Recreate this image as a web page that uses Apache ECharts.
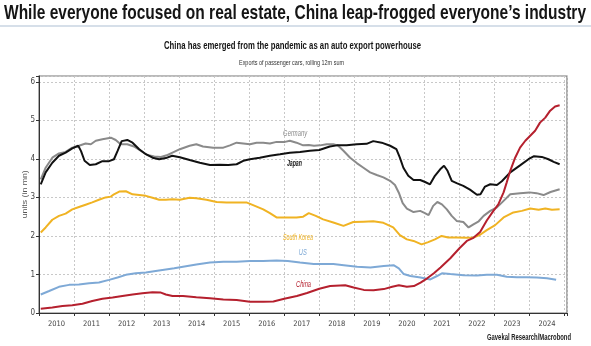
<!DOCTYPE html>
<html><head><meta charset="utf-8">
<script src="https://cdn.jsdelivr.net/npm/echarts@6/dist/echarts.min.js"></script>
<style>html,body{margin:0;padding:0;background:#fff}#c{width:591px;height:346px}</style>
</head><body><div id="c"></div>
<script>
const FAM = "'Liberation Sans', Arial, sans-serif";
const AXFAM = "'DejaVu Sans Condensed', 'Liberation Sans', sans-serif";
const yearLabels = ['2010','2011','2012','2013','2014','2015','2016','2017','2018','2019','2020','2021','2022','2023','2024'];
const yTicks = [0,1,2,3,4,5,6];

const japan = [[2010.05,3.34],[2010.19,3.65],[2010.38,3.9],[2010.57,4.08],[2010.76,4.16],[2010.95,4.27],[2011.12,4.34],[2011.2,4.2],[2011.3,3.95],[2011.45,3.84],[2011.62,3.86],[2011.81,3.94],[2012.0,3.94],[2012.14,3.99],[2012.24,4.2],[2012.36,4.46],[2012.52,4.49],[2012.67,4.42],[2012.86,4.25],[2013.05,4.12],[2013.24,4.03],[2013.43,3.99],[2013.62,4.02],[2013.8,4.08],[2014.02,4.04],[2014.3,3.97],[2014.59,3.9],[2014.88,3.84],[2015.16,3.85],[2015.4,3.84],[2015.64,3.86],[2015.83,3.95],[2016.02,3.99],[2016.3,4.03],[2016.59,4.08],[2016.88,4.12],[2017.16,4.16],[2017.45,4.18],[2017.73,4.21],[2018.0,4.23],[2018.3,4.32],[2018.5,4.35],[2018.78,4.35],[2019.07,4.38],[2019.35,4.39],[2019.54,4.46],[2019.78,4.42],[2020.02,4.34],[2020.2,4.25],[2020.3,4.03],[2020.4,3.77],[2020.54,3.56],[2020.69,3.45],[2020.88,3.45],[2021.02,3.4],[2021.16,3.34],[2021.3,3.56],[2021.45,3.73],[2021.56,3.82],[2021.66,3.69],[2021.78,3.43],[2021.92,3.37],[2022.11,3.3],[2022.3,3.2],[2022.5,3.07],[2022.6,3.08],[2022.73,3.28],[2022.88,3.34],[2023.07,3.32],[2023.21,3.42],[2023.45,3.65],[2023.73,3.83],[2023.97,3.99],[2024.13,4.07],[2024.35,4.05],[2024.54,3.99],[2024.69,3.92],[2024.86,3.86]];

const germany = [[2010.05,3.47],[2010.19,3.77],[2010.38,4.03],[2010.57,4.14],[2010.76,4.18],[2010.95,4.29],[2011.14,4.34],[2011.33,4.4],[2011.48,4.38],[2011.62,4.47],[2011.81,4.51],[2012.05,4.55],[2012.19,4.49],[2012.33,4.38],[2012.52,4.38],[2012.71,4.32],[2012.9,4.21],[2013.09,4.1],[2013.29,4.06],[2013.48,4.05],[2013.67,4.1],[2013.81,4.16],[2014.02,4.25],[2014.3,4.34],[2014.49,4.38],[2014.68,4.32],[2014.97,4.29],[2015.26,4.29],[2015.45,4.35],[2015.64,4.42],[2015.83,4.4],[2016.02,4.38],[2016.21,4.42],[2016.4,4.42],[2016.59,4.4],[2016.78,4.44],[2017.02,4.44],[2017.16,4.47],[2017.35,4.42],[2017.54,4.35],[2017.7,4.36],[2017.85,4.34],[2018.02,4.35],[2018.21,4.38],[2018.4,4.38],[2018.54,4.34],[2018.69,4.21],[2018.88,4.03],[2019.07,3.89],[2019.26,3.77],[2019.45,3.65],[2019.64,3.58],[2019.83,3.52],[2020.02,3.43],[2020.16,3.32],[2020.28,3.1],[2020.38,2.85],[2020.5,2.71],[2020.69,2.62],[2020.88,2.65],[2021.0,2.6],[2021.12,2.54],[2021.25,2.78],[2021.37,2.88],[2021.5,2.82],[2021.64,2.69],[2021.78,2.52],[2021.92,2.39],[2022.11,2.36],[2022.26,2.22],[2022.4,2.3],[2022.55,2.38],[2022.69,2.52],[2022.88,2.65],[2023.07,2.74],[2023.26,2.91],[2023.45,3.08],[2023.73,3.11],[2024.0,3.13],[2024.2,3.11],[2024.4,3.06],[2024.6,3.14],[2024.86,3.21]];

const southKorea = [[2010.05,2.09],[2010.19,2.22],[2010.38,2.42],[2010.57,2.52],[2010.76,2.58],[2010.95,2.69],[2011.14,2.75],[2011.33,2.81],[2011.52,2.87],[2011.71,2.94],[2011.9,3.0],[2012.05,3.02],[2012.14,3.08],[2012.29,3.15],[2012.48,3.16],[2012.67,3.08],[2012.86,3.06],[2013.05,3.04],[2013.24,2.99],[2013.43,2.94],[2013.62,2.94],[2013.81,2.95],[2014.02,2.94],[2014.3,2.99],[2014.49,2.98],[2014.78,2.94],[2015.07,2.88],[2015.35,2.87],[2015.64,2.87],[2015.92,2.87],[2016.11,2.8],[2016.4,2.69],[2016.59,2.59],[2016.78,2.48],[2017.07,2.48],[2017.35,2.48],[2017.54,2.5],[2017.7,2.59],[2017.9,2.52],[2018.11,2.43],[2018.4,2.35],[2018.69,2.26],[2018.97,2.36],[2019.26,2.37],[2019.54,2.38],[2019.83,2.34],[2020.11,2.22],[2020.3,2.02],[2020.5,1.91],[2020.69,1.87],[2020.92,1.78],[2021.11,1.84],[2021.3,1.91],[2021.49,2.0],[2021.68,1.96],[2021.92,1.96],[2022.21,1.95],[2022.4,1.96],[2022.59,2.03],[2022.78,2.15],[2023.02,2.28],[2023.26,2.48],[2023.54,2.61],[2023.78,2.65],[2024.02,2.71],[2024.26,2.68],[2024.45,2.71],[2024.64,2.68],[2024.86,2.69]];

const us = [[2010.05,0.48],[2010.29,0.57],[2010.57,0.68],[2010.86,0.73],[2011.14,0.74],[2011.43,0.77],[2011.71,0.79],[2012.0,0.86],[2012.24,0.92],[2012.48,0.99],[2012.76,1.03],[2013.05,1.05],[2013.33,1.09],[2013.62,1.13],[2013.86,1.16],[2014.11,1.2],[2014.49,1.26],[2014.88,1.31],[2015.26,1.33],[2015.64,1.33],[2016.02,1.35],[2016.4,1.35],[2016.78,1.36],[2017.1,1.35],[2017.45,1.31],[2017.84,1.27],[2018.12,1.27],[2018.4,1.27],[2018.7,1.24],[2019.08,1.2],[2019.46,1.18],[2019.84,1.22],[2020.12,1.24],[2020.27,1.16],[2020.41,1.01],[2020.6,0.96],[2020.89,0.92],[2021.17,0.87],[2021.36,0.96],[2021.5,1.03],[2021.74,1.01],[2022.12,0.98],[2022.5,0.97],[2022.78,0.99],[2023.07,0.99],[2023.35,0.94],[2023.64,0.93],[2023.92,0.93],[2024.21,0.92],[2024.5,0.9],[2024.76,0.86]];

const china = [[2010.05,0.11],[2010.38,0.14],[2010.67,0.18],[2010.95,0.2],[2011.24,0.24],[2011.52,0.31],[2011.81,0.37],[2012.1,0.4],[2012.38,0.44],[2012.67,0.48],[2012.95,0.51],[2013.24,0.54],[2013.48,0.53],[2013.62,0.48],[2013.81,0.44],[2014.11,0.44],[2014.49,0.41],[2014.88,0.38],[2015.26,0.35],[2015.64,0.34],[2016.02,0.29],[2016.4,0.29],[2016.69,0.3],[2017.0,0.37],[2017.36,0.44],[2017.65,0.52],[2018.0,0.63],[2018.31,0.7],[2018.74,0.72],[2018.98,0.66],[2019.27,0.6],[2019.55,0.59],[2019.84,0.62],[2020.08,0.68],[2020.27,0.72],[2020.5,0.68],[2020.7,0.7],[2020.89,0.79],[2021.08,0.9],[2021.27,1.03],[2021.46,1.18],[2021.74,1.42],[2022.0,1.68],[2022.21,1.87],[2022.4,1.95],[2022.59,2.1],[2022.78,2.4],[2022.97,2.65],[2023.11,2.82],[2023.26,3.13],[2023.35,3.39],[2023.45,3.69],[2023.59,4.03],[2023.73,4.29],[2023.88,4.47],[2024.02,4.6],[2024.16,4.73],[2024.3,4.94],[2024.45,5.07],[2024.59,5.25],[2024.73,5.36],[2024.86,5.39]];

const seriesNames = ['Germany','Japan','South Korea','US','China'];
const seriesData = [germany, japan, southKorea, us, china];
const seriesColors = ['#8a8a8a','#111111','#f0b323','#7ea9d6','#b5202e'];
// label anchor in data units (year, mn units)
const labelAt = [[2017.31,4.67],[2017.29,3.89],[2017.39,1.97],[2017.53,1.56],[2017.55,0.73]];
const labelWidth = [24,15,30,8,15];

const ctx = document.createElement('canvas').getContext('2d');
function fitScale(text, style, weight, size, fam, target){
  ctx.font = style + ' ' + weight + ' ' + size + 'px ' + fam;
  return target / ctx.measureText(text).width;
}
function txt(id, text, x, y, size, weight, color, target, opts){
  opts = opts || {};
  const st = opts.italic ? 'italic' : 'normal';
  const s = fitScale(text, st, weight, size, FAM, target);
  return {type:'text', id:id, x:x, y:y, scaleX:s, rotation:opts.rotation||0, z:50, silent:true,
    style:{text:text, fontSize:size, fontFamily:FAM, fontWeight:weight, fontStyle:st, fill:color,
      align:'center', verticalAlign:'middle', textAlign:'center', textVerticalAlign:'middle'}};
}

const chart = echarts.init(document.getElementById('c'), null, {renderer:'canvas'});
chart.setOption({
  animation:false,
  backgroundColor:'#fff',
  grid:{left:39, right:24, top:76, bottom:33, show:true, borderColor:'#777', borderWidth:1.2},
  xAxis:{type:'value', min:2010, max:2025.07, interval:1,
    axisLine:{show:true, onZero:false, lineStyle:{color:'#333', width:1}},
    axisTick:{show:true, length:3, lineStyle:{color:'#333'}},
    axisLabel:{customValues: yearLabels.map(y => +y + 0.5), formatter: v => String(Math.floor(v)),
      fontFamily:AXFAM, fontSize:7.5, color:'#444', margin:7},
    splitLine:{show:true, lineStyle:{color:'#c8c8c8', type:[2,2], width:1}}
  },
  yAxis:{type:'value', min:0, max:6.15, interval:1,
    axisLine:{show:true, lineStyle:{color:'#333'}},
    axisTick:{show:true, length:3, lineStyle:{color:'#333'}},
    axisLabel:{customValues:yTicks, fontFamily:AXFAM, fontSize:8, color:'#444', margin:4},
    splitLine:{show:true, lineStyle:{color:'#c8c8c8', type:[2,2], width:1}}
  },
  series: seriesNames.map((n,i) => ({
    name:n, type:'line', data:seriesData[i], showSymbol:false, symbol:'none',
    lineStyle:{color:seriesColors[i], width:2}, itemStyle:{color:seriesColors[i]}, z: n==='China'?5:3
  }))
});

const g = [
  {type:'line', id:'rule', shape:{x1:0,y1:26,x2:591,y2:26}, style:{stroke:'#c9d5e2', lineWidth:1.5}, silent:true},
  txt('t1','While everyone focused on real estate, China leap-frogged everyone\u2019s industry', 295, 13, 21, 'bold', '#151515', 582),
  txt('t2','China has emerged from the pandemic as an auto export powerhouse', 292.5, 46, 10, 'bold', '#151515', 257),
  txt('t3','Exports of passenger cars, rolling 12m sum', 291.5, 63, 7.5, 'normal', '#333', 105),
  txt('src','Gavekal Research/Macrobond', 529, 338, 8.5, 'bold', '#222', 84),
  txt('yname','units (in mn)', 25, chart.convertToPixel({gridIndex:0},[2010,3.08])[1], 8, 'normal', '#555', 48, {rotation:Math.PI/2})
];
seriesNames.forEach((n,i) => {
  const p = chart.convertToPixel({gridIndex:0}, labelAt[i]);
  g.push(txt('lab'+i, n, p[0], p[1], 9, n==='Japan'?'bold':'normal', seriesColors[i], labelWidth[i], {italic:true}));
});
chart.setOption({graphic:g});
</script></body></html>
